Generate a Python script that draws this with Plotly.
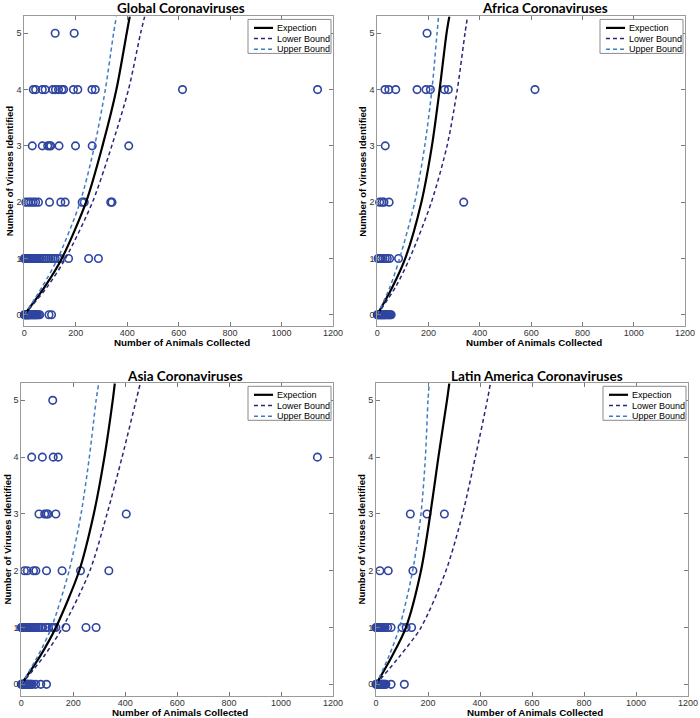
import plotly.graph_objects as go

# ---------------- data ----------------
virus_levels = [0, 1, 2, 3, 4, 5]

# Global: animals collected per number of viruses identified
global_v0 = [0, 2, 4, 6, 8, 10, 12, 14, 16, 18, 20, 23, 26, 29, 32, 35, 38, 41, 44, 47, 50, 55, 60, 96, 106]
global_v1 = [0, 3, 6, 9, 12, 15, 18, 21, 24, 28, 32, 36, 40, 45, 50, 56, 62, 70, 78, 86, 95, 104, 112, 120, 130, 140, 172, 250, 288]
global_v2 = [6, 16, 25, 35, 44, 55, 98, 142, 159, 225, 233, 336, 341]
global_v3 = [31, 70, 91, 98, 103, 135, 199, 264, 406]
global_v4 = [35, 44, 70, 81, 111, 121, 133, 146, 153, 191, 208, 263, 276, 615, 1140]
global_v5 = [120, 194]

africa_v0 = [0, 3, 6, 9, 12, 15, 18, 21, 24, 27, 30, 34, 38, 42, 46, 50, 54]
africa_v1 = [3, 9, 13, 22, 31, 39, 48, 83]
africa_v2 = [9, 18, 26, 46, 337]
africa_v3 = [31]
africa_v4 = [30, 45, 72, 155, 190, 207, 262, 277, 615]
africa_v5 = [194]

asia_v0 = [0, 2, 4, 6, 8, 10, 12, 14, 17, 20, 23, 26, 30, 34, 38, 42, 55, 75, 97]
asia_v1 = [0, 3, 6, 9, 12, 15, 18, 22, 26, 30, 35, 40, 46, 52, 58, 65, 75, 82, 95, 105, 118, 125, 133, 172, 249, 288]
asia_v2 = [12, 23, 47, 56, 97, 157, 228, 337]
asia_v3 = [68, 90, 97, 103, 133, 404]
asia_v4 = [40, 81, 123, 142, 1140]
asia_v5 = [121]

latin_v0 = [0, 2, 4, 6, 8, 10, 12, 15, 18, 21, 24, 27, 30, 34, 38, 58, 109]
latin_v1 = [0, 3, 6, 9, 12, 15, 18, 22, 27, 35, 45, 58, 100, 116, 137]
latin_v2 = [15, 47, 142]
latin_v3 = [132, 196, 263]
latin_v4 = []
latin_v5 = []

# curves: animals needed (x) at given virus counts (y)
curve_viruses = [0, 0.5, 1, 2, 3, 4, 5, 5.3]
global_expect = [0, 80, 146, 240, 304, 358, 398, 410]
global_upper = [0, 70, 130, 217, 273, 315, 347, 358]
global_lower = [0, 90, 160, 265, 340, 405, 452, 468]

africa_expect = [0, 60, 109, 172, 213, 243, 270, 281]
africa_upper = [0, 50, 87, 146, 185, 213, 233, 239]
africa_lower = [0, 72, 126, 211, 272, 312, 342, 352]

asia_expect = [0, 73, 133, 223, 279, 320, 352, 360]
asia_upper = [0, 64, 116, 184, 230, 262, 288, 298]
asia_lower = [0, 88, 159, 264, 330, 388, 442, 458]

latin_expect = [0, 62, 115, 173, 209, 240, 273, 282]
latin_upper = [0, 50, 90, 141, 173, 190, 200, 205]
latin_lower = [0, 92, 173, 269, 333, 382, 428, 440]

titles = ["Global Coronaviruses", "Africa Coronaviruses", "Asia Coronaviruses", "Latin America Coronaviruses"]
legend_labels = ["Expection", "Lower Bound", "Upper Bound"]
x_ticks = [0, 200, 400, 600, 800, 1000, 1200]
y_ticks = [0, 1, 2, 3, 4, 5]

# ---------------- layout helpers ----------------
W, H = 700, 718
MARKER_COLOR = "#2f45a0"
LOWER_COLOR = "#27287a"
UPPER_COLOR = "#3f7cc4"

# axis boxes in pixels: left, right, top, bottom
boxes = [
    (24.3, 333.0, 16.4, 326.0),
    (377.3, 685.0, 16.4, 326.0),
    (21.3, 333.0, 383.3, 695.7),
    (376.0, 688.0, 383.3, 695.7),
]
title_centers = [(181, 8), (545, 8), (185, 376), (537, 376)]
ytitle_x = [9, 362.5, 7, 361]


def px(x):
    return x / W


def py(y):
    return 1 - y / H


panels = [
    ([global_v0, global_v1, global_v2, global_v3, global_v4, global_v5], global_expect, global_lower, global_upper),
    ([africa_v0, africa_v1, africa_v2, africa_v3, africa_v4, africa_v5], africa_expect, africa_lower, africa_upper),
    ([asia_v0, asia_v1, asia_v2, asia_v3, asia_v4, asia_v5], asia_expect, asia_lower, asia_upper),
    ([latin_v0, latin_v1, latin_v2, latin_v3, latin_v4, latin_v5], latin_expect, latin_lower, latin_upper),
]

fig = go.Figure()
shapes = []
annotations = []
layout_axes = {}

line_styles = [
    dict(color="black", width=2.2, dash="solid"),
    dict(color=LOWER_COLOR, width=1.5, dash="4px,3px"),
    dict(color=UPPER_COLOR, width=1.5, dash="4px,3px"),
]

for i, (levels, expect, lower, upper) in enumerate(panels):
    n = i + 1
    xa = "x" if n == 1 else f"x{n}"
    ya = "y" if n == 1 else f"y{n}"
    xs, ys = [], []
    for lvl, vals in zip(virus_levels, levels):
        xs += vals
        ys += [lvl] * len(vals)
    fig.add_trace(go.Scatter(
        x=xs, y=ys, mode="markers", xaxis=xa, yaxis=ya, showlegend=False,
        cliponaxis=False,
        marker=dict(symbol="circle-open", size=7.5, color=MARKER_COLOR, line=dict(width=1.6, color=MARKER_COLOR)),
    ))
    for curve, style, name in zip([expect, lower, upper], line_styles, legend_labels):
        fig.add_trace(go.Scatter(
            x=curve, y=curve_viruses, mode="lines", xaxis=xa, yaxis=ya, name=name,
            showlegend=False, line=dict(shape="spline", smoothing=0.8, **style),
        ))

    l, r, t, b = boxes[i]
    common = dict(
        showgrid=False, zeroline=False, showline=True, linecolor="#9a9a9a", linewidth=1,
        mirror="ticks", ticks="inside", ticklen=4, tickcolor="#7a7a7a", tickwidth=1,
        automargin=False,
        tickfont=dict(family="Liberation Sans, Arial", size=9, color="#333333"),
    )
    key_x = "xaxis" if n == 1 else f"xaxis{n}"
    key_y = "yaxis" if n == 1 else f"yaxis{n}"
    layout_axes[key_x] = dict(domain=[px(l), px(r)], anchor=ya, range=[0, 1200], ticklabelstandoff=-2,
                              tickvals=x_ticks, ticktext=[str(v) for v in x_ticks], **common)
    layout_axes[key_y] = dict(domain=[py(b), py(t)], anchor=xa, range=[-0.2, 5.3],
                              tickvals=y_ticks, ticktext=[str(v) for v in y_ticks], **common)

    # titles
    cx, cy = title_centers[i]
    annotations.append(dict(text=f"<b>{titles[i]}</b>", x=px(cx), y=py(cy), xref="paper", yref="paper",
                            showarrow=False, xanchor="center", yanchor="middle",
                            font=dict(family="Lato", size=13.5, color="black")))
    annotations.append(dict(text="<b>Number of Animals Collected</b>", x=px((l + r) / 2 + 3), y=py(b + 16.3),
                            xref="paper", yref="paper", showarrow=False, xanchor="center", yanchor="middle",
                            font=dict(family="Liberation Sans, Arial", size=9.8, color="black")))
    annotations.append(dict(text="<b>Number of Viruses Identified</b>", x=px(ytitle_x[i]), y=py((t + b) / 2),
                            xref="paper", yref="paper", showarrow=False, xanchor="center", yanchor="middle",
                            textangle=-90,
                            font=dict(family="Liberation Sans, Arial", size=9.6, color="black")))

    # legend box (drawn manually to match the compact MATLAB legend)
    bl, br, bt, bb = r - 85, r - 2, t + 3, t + 37
    shapes.append(dict(type="rect", xref="paper", yref="paper", x0=px(bl), x1=px(br), y0=py(bb), y1=py(bt),
                       line=dict(color="#8a8a8a", width=1), fillcolor="white", layer="above"))
    for k, (name, style) in enumerate(zip(legend_labels, line_styles)):
        ry = bt + 8.5 + k * 10.7
        shapes.append(dict(type="line", xref="paper", yref="paper", x0=px(bl + 6), x1=px(bl + 25),
                           y0=py(ry), y1=py(ry), layer="above",
                           line=dict(color=style["color"], width=style["width"], dash=style["dash"])))
        annotations.append(dict(text=name, x=px(bl + 27), y=py(ry), xref="paper", yref="paper",
                                showarrow=False, xanchor="left", yanchor="middle",
                                font=dict(family="Liberation Sans, Arial", size=9, color="black")))

fig.update_layout(
    width=W, height=H, autosize=False,
    margin=dict(l=0, r=0, t=0, b=0, pad=0, autoexpand=False),
    paper_bgcolor="white", plot_bgcolor="white",
    showlegend=False,
    shapes=shapes, annotations=annotations,
    **layout_axes,
)

fig.write_html("out.html", config={"displayModeBar": False},
               post_script="document.body.style.margin='0px';")
